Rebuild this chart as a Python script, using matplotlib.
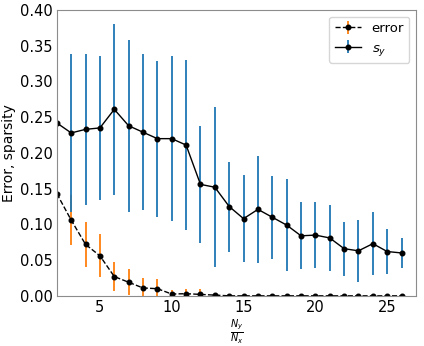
import matplotlib
matplotlib.use("Agg")
import matplotlib.pyplot as plt
import numpy as np

# ratio N_y / N_x
ratio = np.arange(2, 27)

# mean reconstruction error and its spread
err_mean = [0.143, 0.106, 0.072, 0.056, 0.027, 0.019, 0.011, 0.010, 0.0025, 0.003, 0.002,
            0.001, 0.0, 0.0, 0.0, 0.0, 0.0, 0.0, 0.0, 0.0, 0.0, 0.0, 0.0, 0.0, 0.0]
err_std = [0.035, 0.035, 0.031, 0.030, 0.020, 0.018, 0.014, 0.014, 0.006, 0.007, 0.007,
           0.0, 0.0, 0.0, 0.0, 0.0, 0.0, 0.0, 0.0, 0.0, 0.0, 0.0, 0.0, 0.0, 0.0]

# sparsity s_y and its spread
sy_mean = [0.242, 0.228, 0.233, 0.235, 0.261, 0.238, 0.229, 0.220, 0.220, 0.211, 0.156,
           0.152, 0.125, 0.108, 0.121, 0.110, 0.099, 0.084, 0.085, 0.081, 0.066, 0.063,
           0.073, 0.062, 0.060]
sy_std = [0.133, 0.111, 0.106, 0.101, 0.120, 0.120, 0.109, 0.109, 0.115, 0.119, 0.082,
          0.112, 0.063, 0.061, 0.075, 0.058, 0.064, 0.047, 0.046, 0.046, 0.038, 0.043,
          0.044, 0.032, 0.021]

plt.rcParams['font.size'] = 10

fig = plt.figure(figsize=(4.24, 3.46), dpi=100)
ax = fig.add_axes([0.134, 0.145, 0.847, 0.826])

ax.errorbar(ratio, err_mean, yerr=err_std, fmt='o--', color='k', ecolor='#ff7f0e',
            elinewidth=1.3, lw=1, markersize=3.3, label='error')
ax.errorbar(ratio, sy_mean, yerr=sy_std, fmt='o-', color='k', ecolor='#1f77b4',
            elinewidth=1.3, lw=1, markersize=3.3, label='$s_y$')

ax.set_xlim(2, 27)
ax.set_ylim(0, 0.4)
ax.set_xticks([5, 10, 15, 20, 25])
ax.set_yticks(np.arange(0, 0.41, 0.05))
ax.set_yticklabels(['%.2f' % v for v in np.arange(0, 0.41, 0.05)])
ax.tick_params(labelsize=10.5, length=0, pad=3)
for s in ax.spines.values():
    s.set_color('0.55')
    s.set_linewidth(0.8)

ax.set_xlabel(r'$\frac{N_y}{N_x}$', fontsize=10, labelpad=2)
ax.set_ylabel('Error, sparsity', fontsize=10, labelpad=3)
ax.legend(loc='upper right', fontsize=9.5)

fig.savefig('out.png', dpi=100)
